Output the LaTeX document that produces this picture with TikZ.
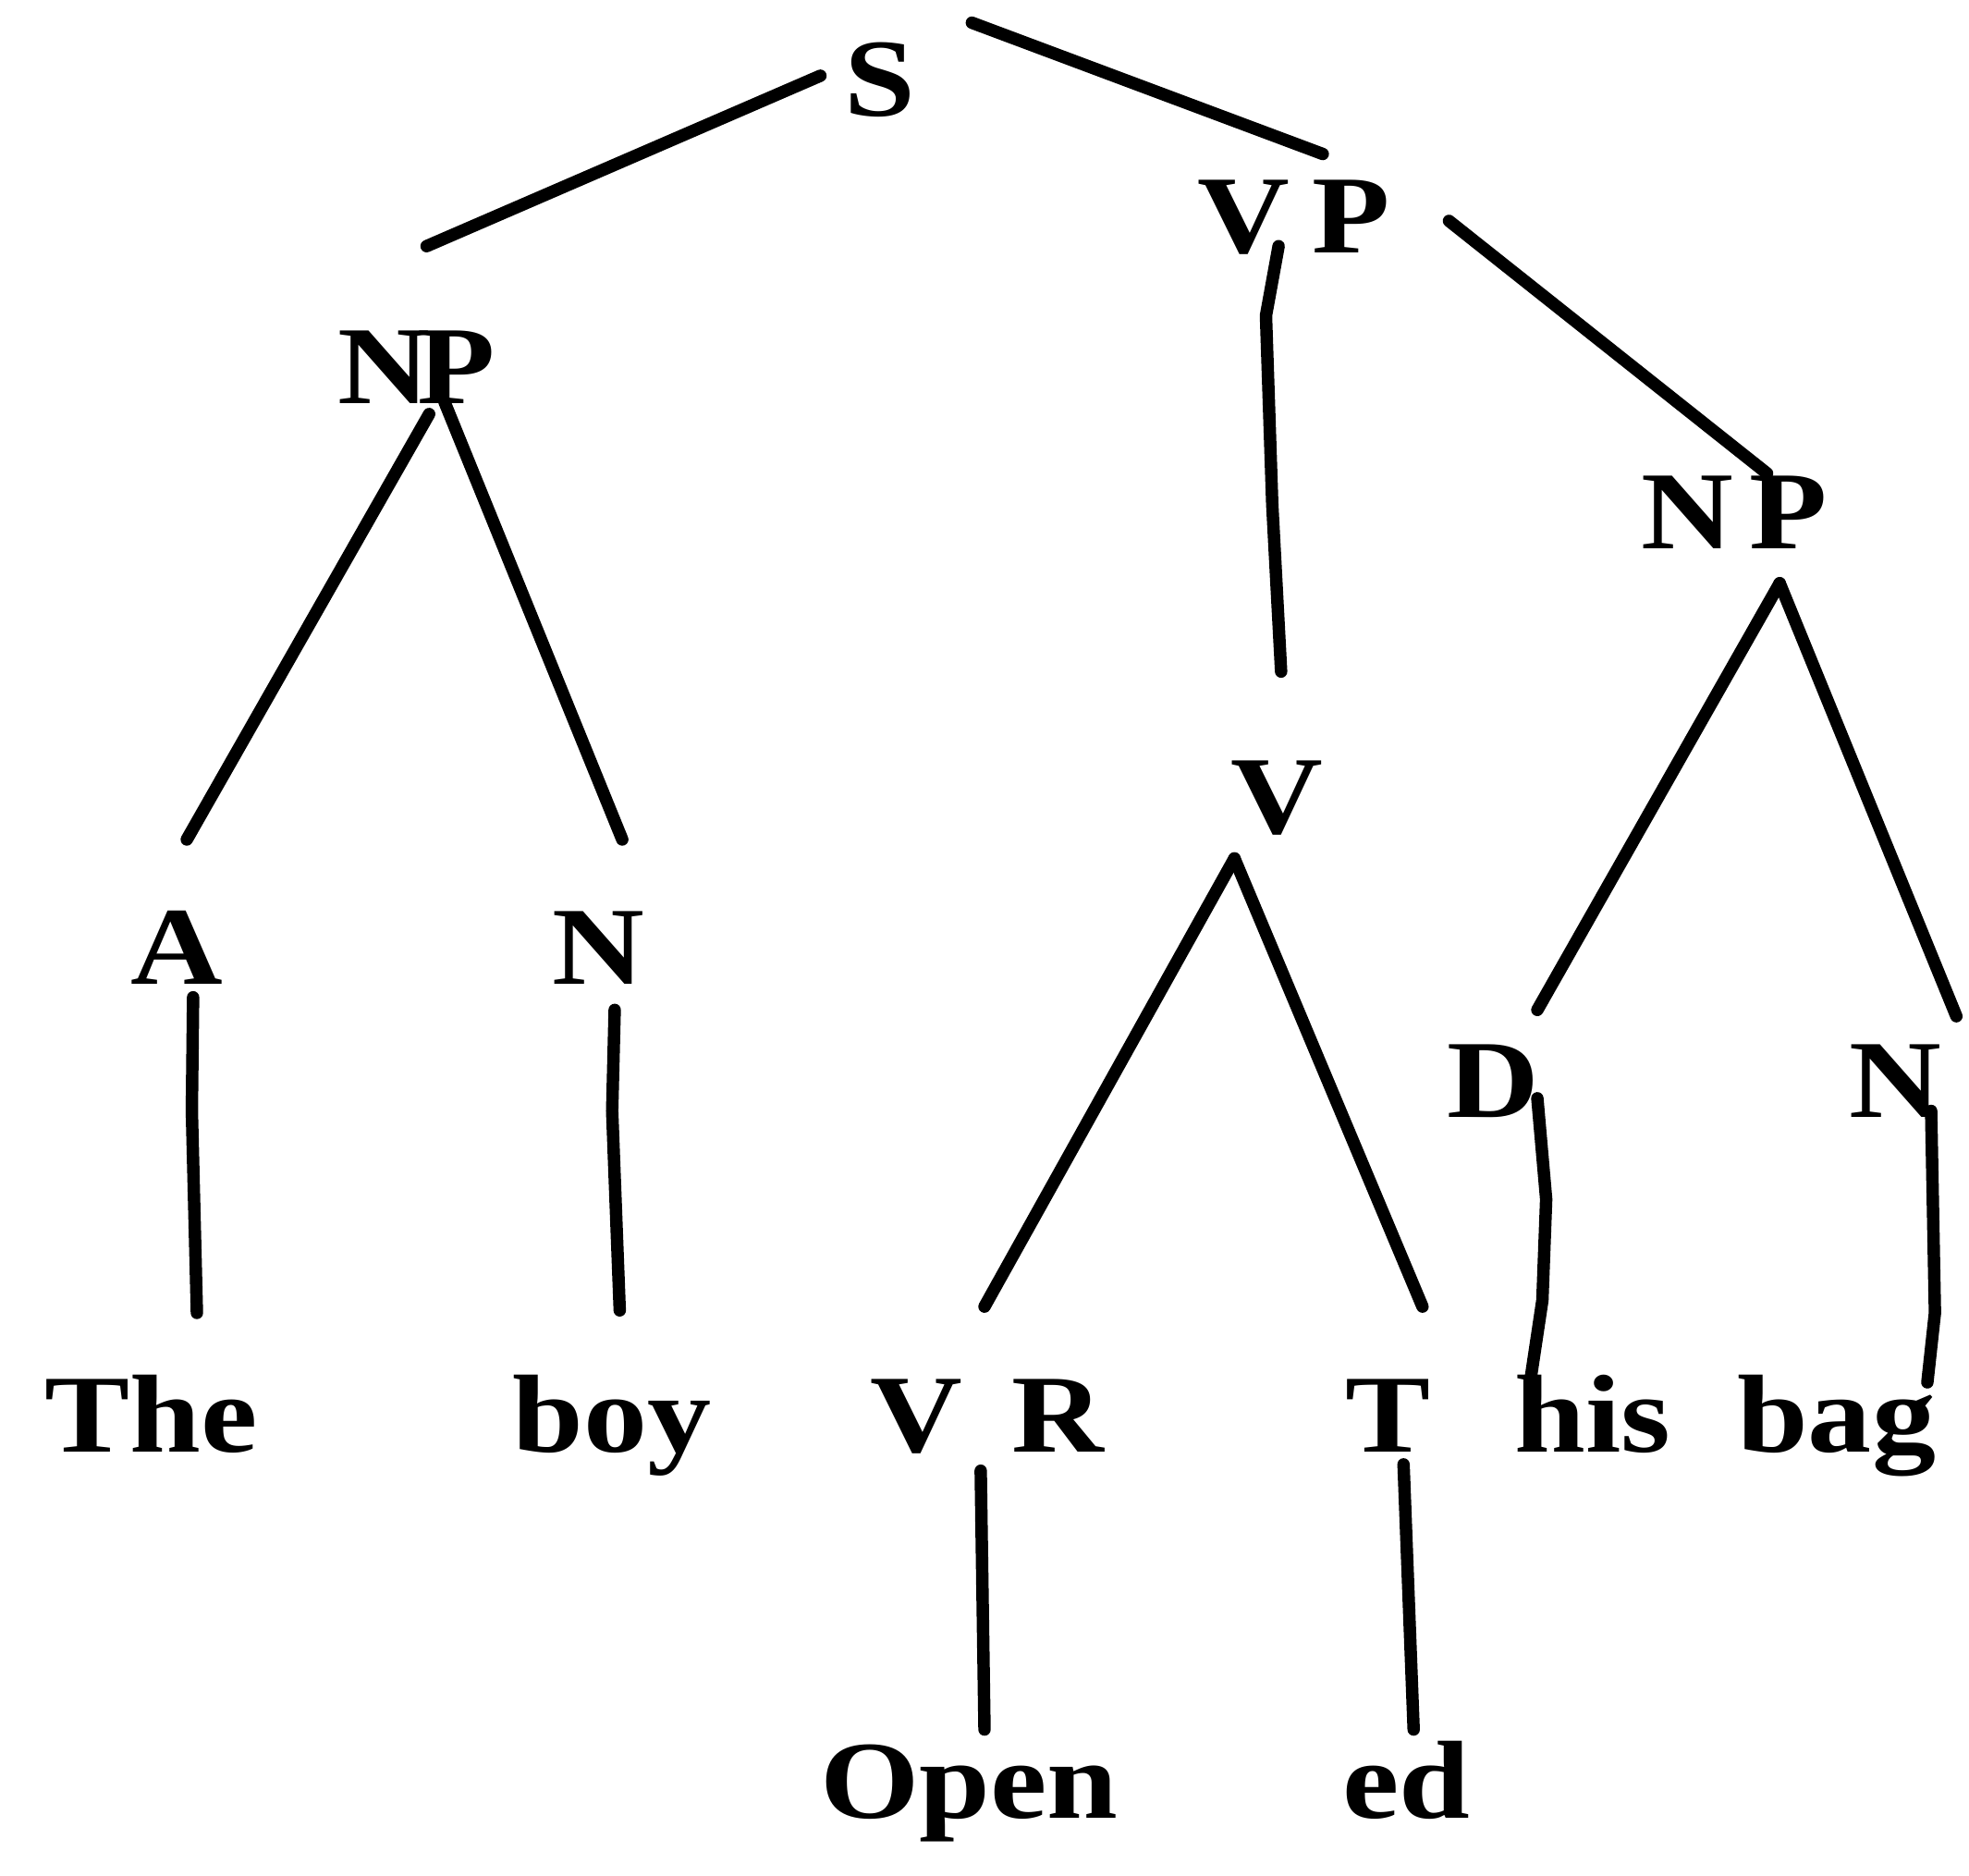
\documentclass[tikz,border=0pt]{standalone}
\usepackage{fontspec}
\newfontfamily\treefont[FakeStretch=1.15]{Liberation Serif}
\begin{document}
\begin{tikzpicture}[x=0.01cm, y=-0.01cm,
  lbl/.style={anchor=base, inner sep=0pt, font=\treefont\fontsize{25}{30}\selectfont\bfseries},
  br/.style={line width=2.8pt, line cap=round, line join=round}]
\useasboundingbox (0,0) rectangle (1560,1486);
% labels
\node[lbl] (s)    at (697,92)   {S};
\node[lbl] (vp)   at (1025,200) {V\hspace{0.2em}P};
\node[lbl] (npl)  at (330,320)  {N\kern-0.12em P};
\node[lbl] (npr)  at (1374,435) {N\hspace{0.15em}P};
\node[lbl] (v)    at (1012,660) {V};
\node[lbl] (a)    at (140,780)  {A};
\node[lbl] (nl)   at (474,780)  {N};
\node[lbl] (d)    at (1183,885) {D};
\node[lbl] (nr)   at (1502,885) {N};
\node[lbl] (the)  at (120,1150) {The};
\node[lbl] (boy)  at (485,1150) {boy};
\node[lbl] (vr)   at (782,1150) {V\hspace{0.45em}R};
\node[lbl] (t)    at (1100,1150){T};
\node[lbl] (his)  at (1262,1150){his};
\node[lbl] (bag)  at (1455,1150){bag};
\node[lbl] (open) at (768,1440) {Open};
\node[lbl] (ed)   at (1114,1440){ed};
% connector end points
\coordinate (s-l) at (650,60);
\coordinate (npl-t) at (338,195);
\coordinate (s-r) at (770,18);
\coordinate (vp-t) at (1048,122);
\coordinate (vp-b) at (1013,195);
\coordinate (v-t) at (1015,532);
\coordinate (vp-r) at (1148,175);
\coordinate (npr-t) at (1400,375);
\coordinate (npl-a) at (340,328);
\coordinate (npl-n) at (352,318);
\coordinate (a-t) at (148,665);
\coordinate (nl-t) at (493,665);
\coordinate (npr-b) at (1410,462);
\coordinate (d-t) at (1218,800);
\coordinate (nr-t) at (1550,805);
\coordinate (v-b) at (978,680);
\coordinate (vr-t) at (780,1035);
\coordinate (t-t) at (1127,1035);
\coordinate (a-b) at (153,790);
\coordinate (the-t) at (156,1040);
\coordinate (nl-b) at (487,800);
\coordinate (boy-t) at (491,1038);
\coordinate (d-b) at (1218,870);
\coordinate (his-t) at (1213,1090);
\coordinate (nr-b) at (1530,880);
\coordinate (bag-t) at (1527,1095);
\coordinate (vr-b) at (777,1165);
\coordinate (open-t) at (780,1370);
\coordinate (t-b) at (1112,1160);
\coordinate (ed-t) at (1120,1370);
% branches
\draw[br] (s-l) -- (npl-t);
\draw[br] (s-r) -- (vp-t);
\draw[br] (vp-b) -- (1003,250) -- (1008,400) -- (v-t);
\draw[br] (vp-r) -- (npr-t);
\draw[br] (npl-a) -- (a-t);
\draw[br] (npl-n) -- (nl-t);
\draw[br] (npr-b) -- (d-t);
\draw[br] (npr-b) -- (nr-t);
\draw[br] (v-b) -- (vr-t);
\draw[br] (v-b) -- (t-t);
\draw[br] (a-b) -- (152,880) -- (the-t);
\draw[br] (nl-b) -- (485,880) -- (boy-t);
\draw[br] (d-b) -- (1225,950) -- (1222,1030) -- (his-t);
\draw[br] (nr-b) -- (1533,1040) -- (bag-t);
\draw[br] (vr-b) -- (open-t);
\draw[br] (t-b) -- (ed-t);
\end{tikzpicture}
\end{document}
